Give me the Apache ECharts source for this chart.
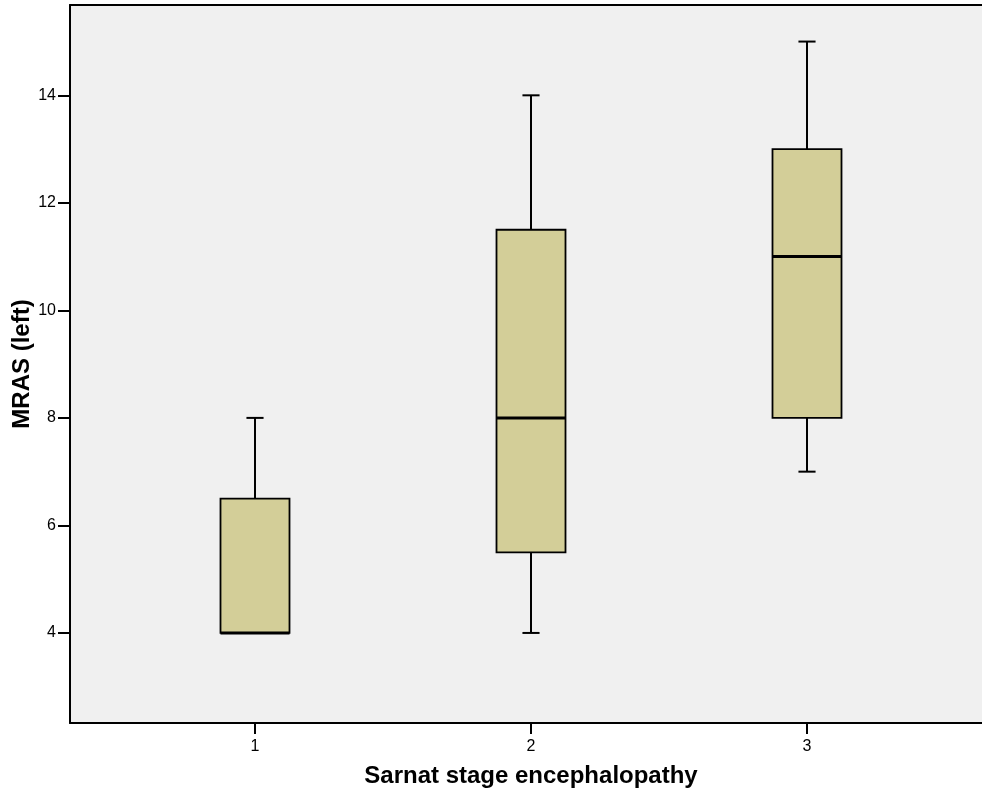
<!DOCTYPE html>
<html>
<head>
<meta charset="utf-8">
<script src="https://cdn.jsdelivr.net/npm/echarts@6/dist/echarts.min.js"></script>
<style>
html,body{margin:0;padding:0;background:#fff;}
#chart{width:982px;height:793px;}
</style>
</head>
<body>
<div id="chart"></div>
<script>
var categories = ['1', '2', '3'];
var minVals = [4, 4, 7];
var q1Vals = [4, 5.5, 8];
var medianVals = [4, 8, 11];
var q3Vals = [6.5, 11.5, 13];
var maxVals = [8, 14, 15];
var yTicks = [4, 6, 8, 10, 12, 14];

var boxData = categories.map(function (c, i) {
  return [i, minVals[i], q1Vals[i], medianVals[i], q3Vals[i], maxVals[i]];
});

var FONT = '"Liberation Sans", Arial, sans-serif';
var Y_MIN = 2.325, Y_MAX = 15.68;

function renderBox(params, api) {
  var idx = api.value(0);
  var pMin = api.coord([idx, api.value(1)]);
  var pQ1 = api.coord([idx, api.value(2)]);
  var pMed = api.coord([idx, api.value(3)]);
  var pQ3 = api.coord([idx, api.value(4)]);
  var pMax = api.coord([idx, api.value(5)]);
  var band = api.size([1, 0])[0];
  var hw = band * 0.125;
  var cw = band * 0.031;
  var cx = pMed[0];
  var lineStyle = { stroke: '#000', lineWidth: 2 };
  return {
    type: 'group',
    children: [
      { type: 'line', shape: { x1: cx, y1: pQ3[1], x2: cx, y2: pMax[1] }, style: lineStyle },
      { type: 'line', shape: { x1: cx, y1: pQ1[1], x2: cx, y2: pMin[1] }, style: lineStyle },
      { type: 'line', shape: { x1: cx - cw, y1: pMax[1], x2: cx + cw, y2: pMax[1] }, style: lineStyle },
      { type: 'line', shape: { x1: cx - cw, y1: pMin[1], x2: cx + cw, y2: pMin[1] }, style: lineStyle },
      { type: 'rect', shape: { x: cx - hw, y: pQ3[1], width: hw * 2, height: pQ1[1] - pQ3[1] },
        style: { fill: '#d3ce98', stroke: '#000', lineWidth: 1.8 } },
      { type: 'line', shape: { x1: cx - hw, y1: pMed[1], x2: cx + hw, y2: pMed[1] },
        style: { stroke: '#000', lineWidth: 3 } }
    ]
  };
}

var frameLine = { show: true, onZero: false, lineStyle: { color: '#000', width: 2 } };

var chart = echarts.init(document.getElementById('chart'), null, { renderer: 'canvas' });
chart.setOption({
  animation: false,
  backgroundColor: '#ffffff',
  grid: [
    { left: 70, right: 0, top: 5, bottom: 70, show: true, backgroundColor: '#f0f0f0',
      borderWidth: 0, containLabel: false, outerBoundsMode: 'none' },
    { left: 117, right: 37, top: 5, bottom: 70, show: false, containLabel: false, outerBoundsMode: 'none' }
  ],
  xAxis: [
    { type: 'value', gridIndex: 0, min: 0, max: 1, position: 'bottom',
      axisLine: frameLine, axisTick: { show: false }, axisLabel: { show: false }, splitLine: { show: false } },
    { type: 'category', gridIndex: 1, data: categories, boundaryGap: true,
      axisLine: { show: false },
      axisTick: { show: true, alignWithLabel: true, length: 11, lineStyle: { color: '#000', width: 2 } },
      axisLabel: { color: '#000', fontSize: 16, fontFamily: FONT, margin: 16 },
      name: 'Sarnat stage encephalopathy', nameLocation: 'middle', nameGap: 41,
      nameTextStyle: { color: '#000', fontSize: 24, fontWeight: 'bold', fontFamily: FONT } },
    { type: 'value', gridIndex: 0, min: 0, max: 1, position: 'top',
      axisLine: frameLine, axisTick: { show: false }, axisLabel: { show: false }, splitLine: { show: false } }
  ],
  yAxis: [
    { type: 'value', gridIndex: 0, min: Y_MIN, max: Y_MAX, position: 'left',
      axisLine: frameLine,
      splitLine: { show: false },
      axisTick: { show: true, length: 12, customValues: yTicks, lineStyle: { color: '#000', width: 2 } },
      axisLabel: { color: '#000', fontSize: 16, fontFamily: FONT, margin: 14, customValues: yTicks },
      name: 'MRAS (left)', nameLocation: 'middle', nameGap: 36, nameRotate: 90, nameMoveOverlap: false,
      nameTextStyle: { color: '#000', fontSize: 24, fontWeight: 'bold', fontFamily: FONT } },
    { type: 'value', gridIndex: 1, min: Y_MIN, max: Y_MAX, show: false }
  ],
  series: [
    { type: 'custom', xAxisIndex: 1, yAxisIndex: 1, renderItem: renderBox,
      encode: { x: 0, y: [1, 2, 3, 4, 5] }, data: boxData, clip: false }
  ]
});
</script>
</body>
</html>
